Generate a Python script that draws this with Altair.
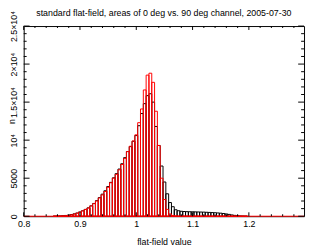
import altair as alt
import pandas as pd

# ---- data ----
bin_centers = [0.855, 0.860, 0.865, 0.870, 0.875, 0.880, 0.885, 0.890, 0.895, 0.900,
               0.905, 0.910, 0.915, 0.920, 0.925, 0.930, 0.935, 0.940, 0.945, 0.950,
               0.955, 0.960, 0.965, 0.970, 0.975, 0.980, 0.985, 0.990, 0.995, 1.000,
               1.005, 1.010, 1.015, 1.020, 1.025, 1.030, 1.035, 1.040, 1.045, 1.050,
               1.055, 1.060, 1.065, 1.070, 1.075, 1.080, 1.085, 1.090, 1.095, 1.100,
               1.105, 1.110, 1.115, 1.120, 1.125, 1.130, 1.135, 1.140, 1.145, 1.150,
               1.155, 1.160, 1.165, 1.170, 1.175, 1.180, 1.185, 1.190, 1.195]
bin_width = 0.005

black_counts = [10, 20, 40, 70, 100, 150, 220, 310, 420, 560,
                720, 900, 1100, 1370, 1680, 2050, 2450, 2900, 3350, 3900,
                4450, 5050, 5600, 6200, 6900, 7700, 8500, 9150, 9850, 10600,
                11900, 13500, 14800, 15850, 16100, 15000, 11800, 9300, 6600, 4500,
                2950, 1800, 1250, 850, 720, 650, 620, 600, 590, 580,
                570, 560, 550, 540, 520, 500, 480, 460, 430, 400,
                360, 300, 240, 170, 110, 60, 30, 15, 5]

red_counts = [0, 10, 20, 30, 60, 110, 180, 280, 400, 540,
              700, 880, 1080, 1350, 1650, 2000, 2400, 2800, 3250, 3800,
              4400, 5000, 5500, 6100, 6800, 7600, 8500, 9200, 9900, 10700,
              12300, 14100, 16600, 18550, 18800, 17600, 13800, 9300, 5000, 2200,
              900, 300, 100, 30, 0, 0, 0, 0, 0, 0,
              0, 0, 0, 0, 0, 0, 0, 0, 0, 0,
              0, 0, 0, 0, 0, 0, 0, 0, 0]

x_range = [0.8, 1.298]
y_range = [0, 25000]

x_major = [0.8, 0.9, 1.0, 1.1, 1.2]
x_minor = [0.82, 0.84, 0.86, 0.88, 0.92, 0.94, 0.96, 0.98, 1.02, 1.04, 1.06, 1.08,
           1.12, 1.14, 1.16, 1.18, 1.22, 1.24, 1.26, 1.28]
y_major = [0, 5000, 10000, 15000, 20000, 25000]
y_labels = ["0", "5000", "10⁴", "1.5×10⁴", "2×10⁴", "2.5×10⁴"]
y_minor = [1000, 2000, 3000, 4000, 6000, 7000, 8000, 9000, 11000, 12000, 13000, 14000,
           16000, 17000, 18000, 19000, 21000, 22000, 23000, 24000]

title_text = "standard flat-field, areas of 0 deg vs. 90 deg channel, 2005-07-30"
x_title = "flat-field value"
y_title = "n"

W, H = 286, 194
FONT = "Liberation Sans"

# ---- build tables ----
half = bin_width / 2
hist = pd.DataFrame({
    "lo": [c - half for c in bin_centers],
    "hi": [c + half for c in bin_centers],
    "black": black_counts,
    "red": red_counts,
    "zero": [0] * len(bin_centers),
})

xs = alt.Scale(domain=x_range, nice=False, zero=False)
ys = alt.Scale(domain=y_range, nice=False, zero=True)

label_expr = " : ".join(
    f"datum.value == {v} ? '{t}'" for v, t in zip(y_major, y_labels)
) + " : ''"

AX_X = alt.Axis(values=x_major, format="~g", title=x_title, orient="bottom",
                ticks=False, domain=False, grid=False, labelFlush=False,
                labelPadding=3, titlePadding=10,
                labelFont=FONT, labelFontSize=9, titleFont=FONT,
                titleFontSize=9, titleFontWeight="normal",
                labelColor="black", titleColor="black")
AX_Y = alt.Axis(values=y_major, labelExpr=label_expr, title=y_title, orient="left",
                ticks=False, domain=False, grid=False, labelFlush=False,
                labelAngle=270, labelAlign="center", labelBaseline="bottom",
                labelPadding=5, labelFont=FONT, labelFontSize=9,
                labelColor="black", titleColor="black",
                titleFont=FONT, titleFontSize=9, titleFontWeight="normal",
                titleAngle=270, titleX=-9, titleY=H / 2,
                titleAlign="center", titleBaseline="alphabetic")

black_layer = alt.Chart(hist).mark_rect(
    fill="transparent", stroke="#000000", strokeWidth=1
).encode(
    x=alt.X("lo:Q", scale=xs, axis=AX_X),
    x2="hi:Q",
    y=alt.Y("black:Q", scale=ys, axis=AX_Y),
    y2="zero:Q",
)

red_layer = alt.Chart(hist).mark_rect(
    fill="transparent", stroke="#ff0000", strokeWidth=1
).encode(
    x=alt.X("lo:Q", scale=xs, axis=AX_X),
    x2="hi:Q",
    y=alt.Y("red:Q", scale=ys, axis=AX_Y),
    y2="zero:Q",
)

base_df = pd.DataFrame({"x0": [x_range[0]], "x1": [x_range[1]], "y": [0]})
baseline = alt.Chart(base_df).mark_rule(color="#ff0000", strokeWidth=1).encode(
    x=alt.X("x0:Q", scale=xs, axis=AX_X),
    x2="x1:Q",
    y=alt.Y("y:Q", scale=ys, axis=AX_Y),
)


def xticks(vals, length):
    df = pd.DataFrame({"v": vals})
    b = alt.Chart(df).mark_rule(color="black", strokeWidth=1).encode(
        x=alt.X("v:Q", scale=xs, axis=AX_X), y=alt.value(H), y2=alt.value(H - length))
    t = alt.Chart(df).mark_rule(color="black", strokeWidth=1).encode(
        x=alt.X("v:Q", scale=xs, axis=AX_X), y=alt.value(0), y2=alt.value(length))
    return [b, t]


def yticks(vals, length):
    df = pd.DataFrame({"v": vals})
    l = alt.Chart(df).mark_rule(color="black", strokeWidth=1).encode(
        y=alt.Y("v:Q", scale=ys, axis=AX_Y), x=alt.value(0), x2=alt.value(length))
    r = alt.Chart(df).mark_rule(color="black", strokeWidth=1).encode(
        y=alt.Y("v:Q", scale=ys, axis=AX_Y), x=alt.value(W), x2=alt.value(W - length))
    return [l, r]


layers = [black_layer, red_layer, baseline]
layers += xticks(x_major, 4) + xticks(x_minor, 2)
layers += yticks(y_major, 6) + yticks(y_minor, 3)

chart = alt.layer(*layers).properties(
    width=W, height=H,
    title=alt.Title(title_text, font=FONT, fontSize=9, fontWeight="normal",
                    color="black", anchor="middle", offset=-8),
    autosize=alt.AutoSizeParams(type="none"),
    padding={"left": 16, "top": 16, "right": 2, "bottom": 30},
).configure_view(stroke="black", strokeWidth=1)

chart.save("out.html", embed_options={"renderer": "svg", "actions": False})
